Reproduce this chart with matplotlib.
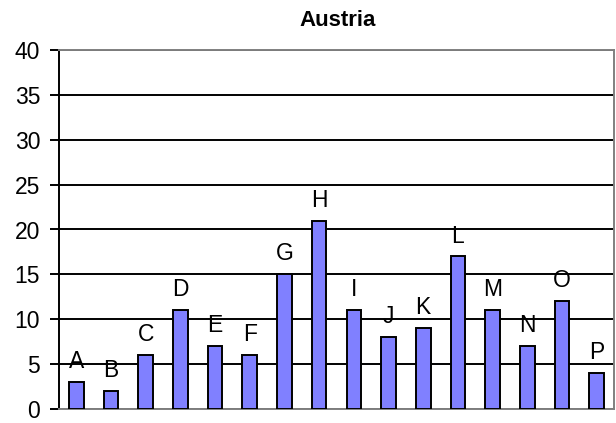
import matplotlib
matplotlib.use('Agg')
import matplotlib.pyplot as plt

# data
labels = ['A', 'B', 'C', 'D', 'E', 'F', 'G', 'H', 'I', 'J', 'K', 'L', 'M', 'N', 'O', 'P']
values = [3, 2, 6, 11, 7, 6, 15, 21, 11, 8, 9, 17, 11, 7, 12, 4]
yticks = [0, 5, 10, 15, 20, 25, 30, 35, 40]

plt.rcParams['font.family'] = ['Liberation Sans', 'DejaVu Sans']

fig = plt.figure(figsize=(6.16, 4.23), dpi=100)
ax = fig.add_axes([59 / 616, 14 / 423, 555 / 616, 359 / 423])

x = range(len(labels))
bars = ax.bar(x, values, width=0.42, color='#8080FF', edgecolor='black',
              linewidth=1.4, zorder=3)

# letters above each bar
for xi, v, lab in zip(x, values, labels):
    ax.annotate(lab, (xi, v), xytext=(0, 10), textcoords='offset points',
                ha='center', va='baseline', fontsize=16.5)

ax.set_xlim(-0.5, len(labels) - 0.5)
ax.set_ylim(0, 40)
ax.set_yticks(yticks)
ax.set_xticks([])
ax.tick_params(axis='y', labelsize=16.5, length=6.5, width=1.4, pad=7)

ax.yaxis.grid(True, color='black', linewidth=1.4, zorder=0)
ax.set_axisbelow(True)
for side in ['top', 'right', 'bottom']:
    ax.spines[side].set_color('#808080')
    ax.spines[side].set_linewidth(1.4)
ax.spines['left'].set_color('black')
ax.spines['left'].set_linewidth(1.4)

fig.text(338 / 616, 1 - 20 / 423, 'Austria', ha='center', va='center',
         fontsize=16, fontweight='bold')

fig.savefig('out.png', dpi=100)
